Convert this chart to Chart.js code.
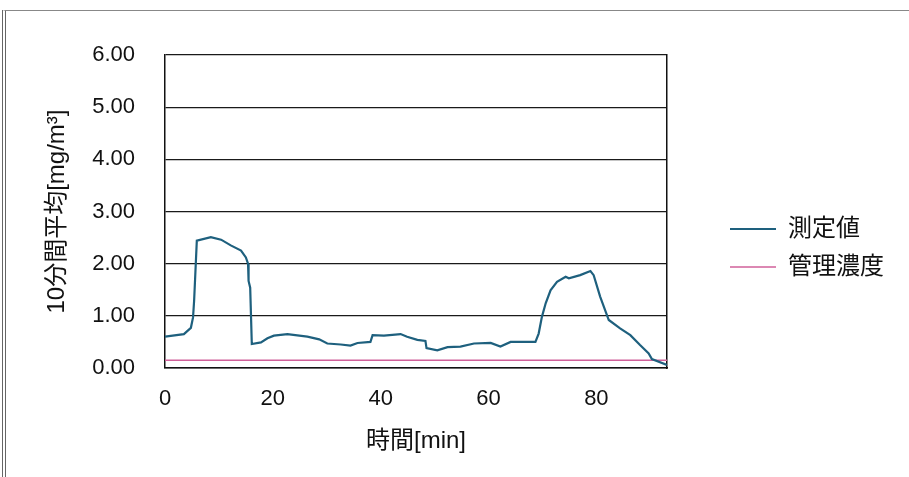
<!DOCTYPE html>
<html>
<head>
<meta charset="utf-8">
<script src="https://cdn.jsdelivr.net/npm/chart.js@4.4.1/dist/chart.umd.min.js"></script>
<style>
  html, body { margin: 0; padding: 0; background: #fff; }
  #wrap { position: relative; width: 909px; height: 477px; overflow: hidden; }
  #frame { position: absolute; left: 2px; top: 10px; width: 1000px; height: 600px;
           border-left: 4px double #666; border-top: 1px solid #888; }
  #chart { position: absolute; left: 0; top: 0; }
</style>
</head>
<body>
<div id="wrap">
  <div id="frame"></div>
  <canvas id="chart" width="909" height="477"></canvas>
</div>
<script>
// ===== データ =====
const measTimes = [0, 3.5, 4.8, 5.2, 5.4, 5.9, 8.5, 10.4, 12.2, 14.1, 15.0, 15.4, 15.5, 15.8, 16.1,
    17.8, 19.0, 20.2, 22.7, 26.4, 28.6, 30.1, 32.6, 34.4, 35.7, 38.1, 38.5, 40.6, 43.7, 44.9,
    46.8, 48.3, 48.5, 50.5, 52.4, 54.8, 57.3, 60.4, 62.2, 64.1, 68.7, 69.3, 69.9, 70.6, 71.5,
    72.7, 74.3, 74.9, 77.0, 78.9, 79.5, 80.7, 82.3, 84.4, 86.3, 88.1, 89.7, 90.3, 93.1];
const measValues = [0.60, 0.65, 0.77, 0.97, 1.29, 2.44, 2.51, 2.46, 2.35, 2.25, 2.12, 2.00, 1.67, 1.54, 0.46,
    0.49, 0.57, 0.62, 0.65, 0.60, 0.55, 0.47, 0.45, 0.43, 0.48, 0.50, 0.63, 0.62, 0.65, 0.60,
    0.54, 0.52, 0.38, 0.34, 0.40, 0.41, 0.47, 0.48, 0.41, 0.50, 0.50, 0.66, 0.98, 1.24, 1.49,
    1.65, 1.75, 1.72, 1.78, 1.86, 1.78, 1.37, 0.92, 0.76, 0.63, 0.44, 0.28, 0.17, 0.06];
const limitTimes = [0, 93.1];
const limitValues = [0.15, 0.15];

const seriesNames = ['測定値', '管理濃度'];
const xTitle = '時間[min]';
const yTitle = '10分間平均[mg/m³]';
const xMax = 93.1;
const yMax = 6;

// 色
const measColor = '#1e607e';
const limitColor = '#d0609a';

const toPoints = (xs, ys) => xs.map((x, i) => ({ x: x, y: ys[i] }));

const fontFamily = "'Liberation Sans', 'Noto Sans CJK JP', sans-serif";

// ===== グラフ =====
function drawChart() {
    const ctx = document.getElementById('chart').getContext('2d');
    new Chart(ctx, {
        type: 'line',
        data: {
            datasets: [
                {
                    label: seriesNames[0],
                    data: toPoints(measTimes, measValues),
                    borderColor: measColor,
                    backgroundColor: measColor,
                    borderWidth: 2.2,
                    pointRadius: 0,
                    tension: 0
                },
                {
                    label: seriesNames[1],
                    data: toPoints(limitTimes, limitValues),
                    borderColor: limitColor,
                    backgroundColor: limitColor,
                    borderWidth: 1.6,
                    pointRadius: 0,
                    tension: 0
                }
            ]
        },
        options: {
            responsive: false,
            animation: false,
            layout: { padding: { left: 0, top: 55, right: 15, bottom: 36 } },
            plugins: {
                tooltip: { enabled: false },
                legend: {
                    position: 'right',
                    maxWidth: 400,
                    labels: {
                        usePointStyle: true,
                        pointStyle: 'line',
                        pointStyleWidth: 46,
                        padding: 14,
                        color: '#111',
                        font: { family: fontFamily, size: 24 }
                    }
                }
            },
            scales: {
                x: {
                    type: 'linear',
                    min: 0,
                    max: xMax,
                    grid: { display: false, drawTicks: false },
                    border: { display: true, color: '#111', width: 1.5 },
                    ticks: {
                        stepSize: 20,
                        includeBounds: false,
                        padding: 18,
                        color: '#111',
                        maxRotation: 0,
                        font: { family: fontFamily, size: 22 }
                    },
                    title: {
                        display: true,
                        text: xTitle,
                        color: '#111',
                        padding: { top: 0, bottom: -15 },
                        font: { family: fontFamily, size: 24 }
                    },
                    afterFit: s => { s.height = 73; }
                },
                y: {
                    min: 0,
                    max: yMax,
                    grid: { color: '#1a1a1a', lineWidth: 1.3, drawTicks: false },
                    border: { display: true, color: '#111', width: 1.5 },
                    ticks: {
                        stepSize: 1,
                        padding: 30,
                        color: '#111',
                        font: { family: fontFamily, size: 22 },
                        callback: v => v.toFixed(2)
                    },
                    title: {
                        display: true,
                        text: yTitle,
                        color: '#111',
                        padding: { top: 43, bottom: 0 },
                        font: { family: fontFamily, size: 24 }
                    },
                    afterFit: s => { s.width = 165; }
                },
                // 右側の枠線用（目盛りなし）
                y2: {
                    position: 'right',
                    min: 0,
                    max: yMax,
                    grid: { display: false, drawTicks: false },
                    border: { display: true, color: '#111', width: 1.5 },
                    ticks: { display: false },
                    afterFit: s => { s.width = 49; }
                }
            }
        }
    });
}

// CJKフォントの読み込みを待ってから描画（凡例の幅を正しく測るため）
document.fonts.load("24px 'Noto Sans CJK JP'", seriesNames.join(''))
    .then(drawChart)
    .catch(drawChart);
</script>
</body>
</html>
